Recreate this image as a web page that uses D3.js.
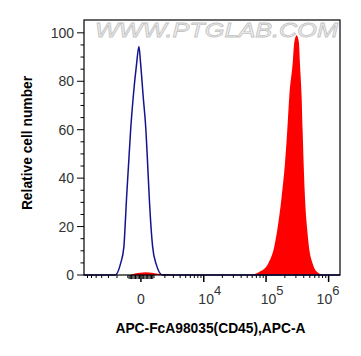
<!DOCTYPE html>
<meta charset="utf-8">
<title>CD45 flow histogram</title>
<style>
  body { margin: 0; background: #fff; }
  svg text { font-family: "Liberation Sans", Arial, sans-serif; }
  .tick-label { font-size: 14px; fill: #333; }
  .axis-title { font-size: 13.8px; font-weight: bold; fill: #000; }
</style>
<body>
<svg width="361" height="356"></svg>
<script src="https://d3js.org/d3.v7.min.js"></script>
<script>
  // control (blue line), fluorescence value vs relative count
  var ctrlX = [-8000, -2600, -2212, -1636, -1335, -1248, -1102, -937, -776, -574, -318, -147, -22, 170, 370, 498, 621, 776, 888, 1161, 1770, 2400, 1520000];
  var ctrlY = [0, 0, 0, 4.8, 11.7, 18.6, 32.3, 46, 59.8, 73.5, 87.3, 94.4, 87.3, 73.5, 59.8, 46, 32.3, 18.6, 11.7, 4.8, 0, 0, 0];

  // stained sample (red fill)
  var sampleX = [-8000, -832, -446, -74, 370, 832, 1516, 2334, 3220, 55200, 79800, 108400, 135200, 151000, 177400, 200400, 218200, 234800, 266000, 282200, 308400, 335400, 348000, 370600, 384400, 399000, 418400, 455400, 484600, 555200, 643800, 820800, 1520000];
  var sampleY = [0, 0, 0.6, 0.9, 1.1, 0.9, 0.4, 0.3, 0, 0, 1.4, 4.8, 11.7, 18.6, 32.3, 46, 59.8, 73.5, 87.3, 96, 99, 96, 87.3, 73.5, 59.8, 46, 32.3, 18.6, 11.7, 4.8, 1.4, 0, 0];

  var yTicks = [0, 20, 40, 60, 80, 100];
  var xMajor = [0, 1e4, 1e5, 1e6];
  var xMajorLabels = ["0", "4", "5", "6"];

  var svg = d3.select("svg");
  var margin = {left: 84, right: 340, top: 20, bottom: 275};
  var W = 2000; // asinh width for the biexponential axis
  var T = function (v) { return Math.asinh(v / W); };

  var xs = d3.scaleLinear().domain([T(-8000), T(1520000)]).range([margin.left, margin.right]);
  var x = function (v) { return xs(T(v)); };
  var y = d3.scaleLinear().domain([0, 105.3]).range([margin.bottom, margin.top]);

  // watermark
  svg.append("text")
    .attr("x", 95).attr("y", 37)
    .attr("textLength", 243)
    .attr("lengthAdjust", "spacingAndGlyphs")
    .style("font-size", "21px")
    .style("font-style", "italic")
    .style("fill", "#f2f2f2")
    .style("stroke", "#c4c4c4")
    .style("stroke-width", 0.8)
    .text("WWW.PTGLAB.COM");

  // red filled histogram
  var sample = sampleX.map(function (v, i) { return [v, sampleY[i]]; });
  svg.append("path")
    .datum(sample)
    .attr("fill", "#ff0000")
    .attr("d", d3.area()
      .x(function (d) { return x(d[0]); })
      .y0(y(0))
      .y1(function (d) { return y(d[1]); })
      .curve(d3.curveMonotoneX));

  // blue control line
  var ctrl = ctrlX.map(function (v, i) { return [v, ctrlY[i]]; });
  svg.append("path")
    .datum(ctrl)
    .attr("fill", "none")
    .attr("stroke", "#13138f")
    .attr("stroke-width", 1.5)
    .attr("d", d3.line()
      .x(function (d) { return x(d[0]); })
      .y(function (d) { return y(d[1]); })
      .curve(d3.curveMonotoneX));

  // frame
  svg.append("rect")
    .attr("x", margin.left).attr("y", margin.top)
    .attr("width", margin.right - margin.left)
    .attr("height", margin.bottom - margin.top)
    .attr("fill", "none")
    .attr("stroke", "#000")
    .attr("stroke-width", 1.2);

  // y ticks
  var yMinor = d3.range(0, 101, 5);
  svg.selectAll(".ytick")
    .data(yMinor)
    .enter().append("line")
    .attr("x1", function (d) { return d % 20 == 0 ? margin.left - 7 : margin.left - 3.5; })
    .attr("x2", margin.left)
    .attr("y1", function (d) { return y(d); })
    .attr("y2", function (d) { return y(d); })
    .attr("stroke", "#000");

  svg.selectAll(".ylab")
    .data(yTicks)
    .enter().append("text")
    .attr("class", "tick-label")
    .attr("x", margin.left - 10)
    .attr("y", function (d) { return y(d) + 5; })
    .attr("text-anchor", "end")
    .text(function (d) { return d; });

  // x ticks (biexponential)
  var xMinor = [];
  d3.range(-7000, 0, 1000).forEach(function (v) { xMinor.push(v); });
  d3.range(-900, 1000, 100).forEach(function (v) { if (v != 0) xMinor.push(v); });
  [1e3, 1e4, 1e5].forEach(function (dec) {
    d3.range(1, 10).forEach(function (k) { if (dec * k != 1e4 && dec * k != 1e5) xMinor.push(dec * k); });
  });
  svg.selectAll(".xminor")
    .data(xMinor)
    .enter().append("line")
    .attr("x1", function (d) { return x(d); })
    .attr("x2", function (d) { return x(d); })
    .attr("y1", margin.bottom)
    .attr("y2", function (d) { return Math.abs(d) < 1000 ? margin.bottom + 4 : margin.bottom + 3; })
    .attr("stroke", "#000");

  svg.selectAll(".xmajor")
    .data(xMajor)
    .enter().append("line")
    .attr("x1", function (d) { return x(d); })
    .attr("x2", function (d) { return x(d); })
    .attr("y1", margin.bottom)
    .attr("y2", margin.bottom + 7)
    .attr("stroke", "#000")
    .attr("stroke-width", 1.5);

  var xl = svg.selectAll(".xlab")
    .data(xMajor)
    .enter().append("text")
    .attr("class", "tick-label")
    .attr("text-anchor", "middle")
    .attr("x", function (d) { return d == 0 ? x(d) : Math.min(x(d) + 6, 328); })
    .attr("y", 304);
  xl.each(function (d, i) {
    var t = d3.select(this);
    if (d == 0) { t.text("0"); return; }
    t.append("tspan").text("10");
    t.append("tspan").attr("dy", -9).style("font-size", "13px").text(xMajorLabels[i]);
  });

  // axis titles
  svg.append("text")
    .attr("class", "axis-title")
    .attr("x", 210.5).attr("y", 333)
    .attr("text-anchor", "middle")
    .text("APC-FcA98035(CD45),APC-A");

  svg.append("text")
    .attr("class", "axis-title")
    .attr("transform", "translate(32,143) rotate(-90)")
    .attr("text-anchor", "middle")
    .text("Relative cell number");
</script>
</body>
